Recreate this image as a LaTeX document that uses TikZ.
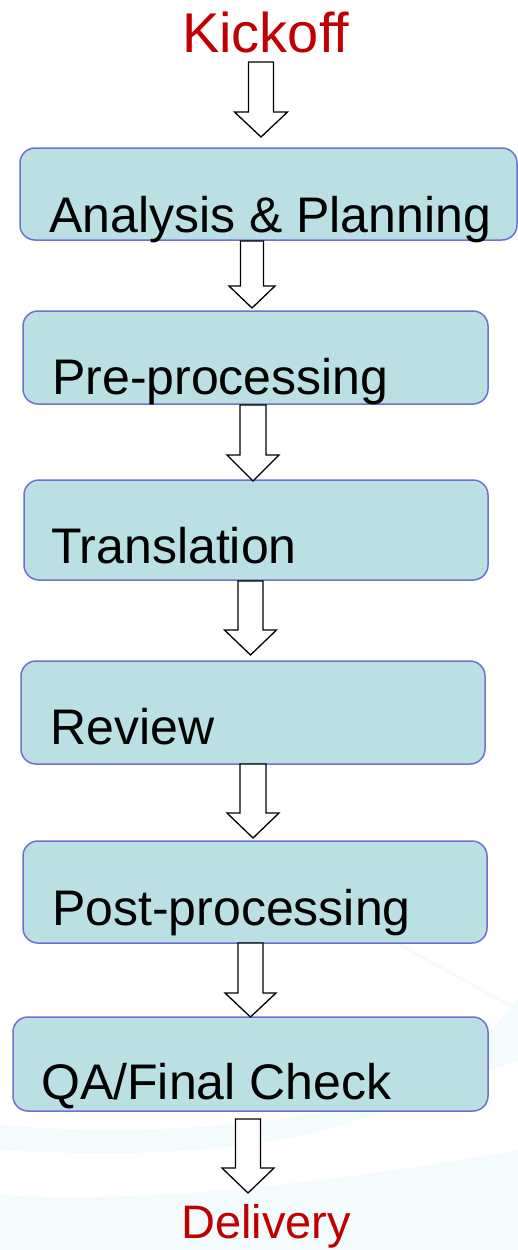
\documentclass[tikz,border=0pt]{standalone}
\usepackage{fontspec}
\setmainfont{Liberation Sans}
\usetikzlibrary{calc}
\definecolor{boxfill}{HTML}{BAE0E3}
\definecolor{boxline}{HTML}{7070D0}
\definecolor{endred}{HTML}{C00000}
\definecolor{swoosh}{HTML}{F4FBFD}
\tikzset{
  stepbox/.style={draw=boxline, fill=boxfill, line width=1.5pt, rounded corners=15pt,
    inner sep=0pt, outer sep=0pt, anchor=north west},
  steptext/.style={anchor=base west, inner sep=0pt, font=\fontsize{50}{53}\selectfont, text=black},
  endtext/.style={anchor=base west, inner sep=0pt, text=endred},
  barrowline/.style={draw=black, fill=white, line width=1.3pt, line join=miter}
}
% #1 centre x, #2 top, #3 head start, #4 tip, #5 shaft half width, #6 head half width
\newcommand{\blockarr}[6]{%
  \draw[barrowline] (#1-#5,#2) -- (#1+#5,#2) -- (#1+#5,#3) -- (#1+#6,#3) -- (#1,#4)
    -- (#1-#6,#3) -- (#1-#5,#3) -- cycle;}
\begin{document}
\begin{tikzpicture}[x=1pt,y=-1pt]
\useasboundingbox (0,0) rectangle (518,1250);
\fill[white] (0,0) rectangle (518,1250);
% faint background swooshes
\fill[swoosh] (0,1125) .. controls (180,1140) and (360,1120) .. (518,1060)
  -- (518,1000) .. controls (500,1020) and (480,1040) .. (470,1060)
  .. controls (360,1150) and (180,1160) .. (0,1150) -- cycle;
\fill[swoosh] (0,1195) .. controls (150,1205) and (350,1180) .. (518,1150)
  -- (518,1250) -- (0,1250) -- cycle;
\draw[swoosh, line width=3pt] (400,945) -- (518,1010);

% Kickoff
\node[endtext, font=\fontsize{56}{59}\selectfont] (kick) at (182,52) {Kickoff};

% boxes
\node[stepbox, minimum width=497pt, minimum height=92pt] (b1) at (20,148) {};
\node[steptext] (t1) at (49,232) {Analysis \& Planning};

\node[stepbox, minimum width=465pt, minimum height=93pt] (b2) at (23,311) {};
\node[steptext] (t2) at (52,394) {Pre-processing};

\node[stepbox, minimum width=464pt, minimum height=100pt] (b3) at (24,480) {};
\node[steptext] (t3) at (51,563) {Translation};

\node[stepbox, minimum width=464pt, minimum height=103pt] (b4) at (21,661) {};
\node[steptext] (t4) at (50,744) {Review};

\node[stepbox, minimum width=464pt, minimum height=102pt] (b5) at (23,841) {};
\node[steptext] (t5) at (52,925) {Post-processing};

\node[stepbox, minimum width=475pt, minimum height=94pt] (b6) at (13,1017) {};
\node[steptext] (t6) at (41,1099) {QA/Final Check};

% Delivery
\node[endtext, font=\fontsize{47}{50}\selectfont] (deliv) at (181,1238) {Delivery};

% block arrows
\blockarr{261}{62}{112}{137}{12.5}{26.5}
\blockarr{252}{241}{286}{308}{11.5}{23}
\blockarr{253}{405}{455}{481}{13}{26}
\blockarr{250.5}{581}{630}{655}{12.5}{26}
\blockarr{253}{764}{813}{838}{13}{26}
\blockarr{250.5}{943}{993}{1017}{12.5}{25.5}
\blockarr{248}{1119}{1168}{1193}{12.5}{26}
\end{tikzpicture}
\end{document}
